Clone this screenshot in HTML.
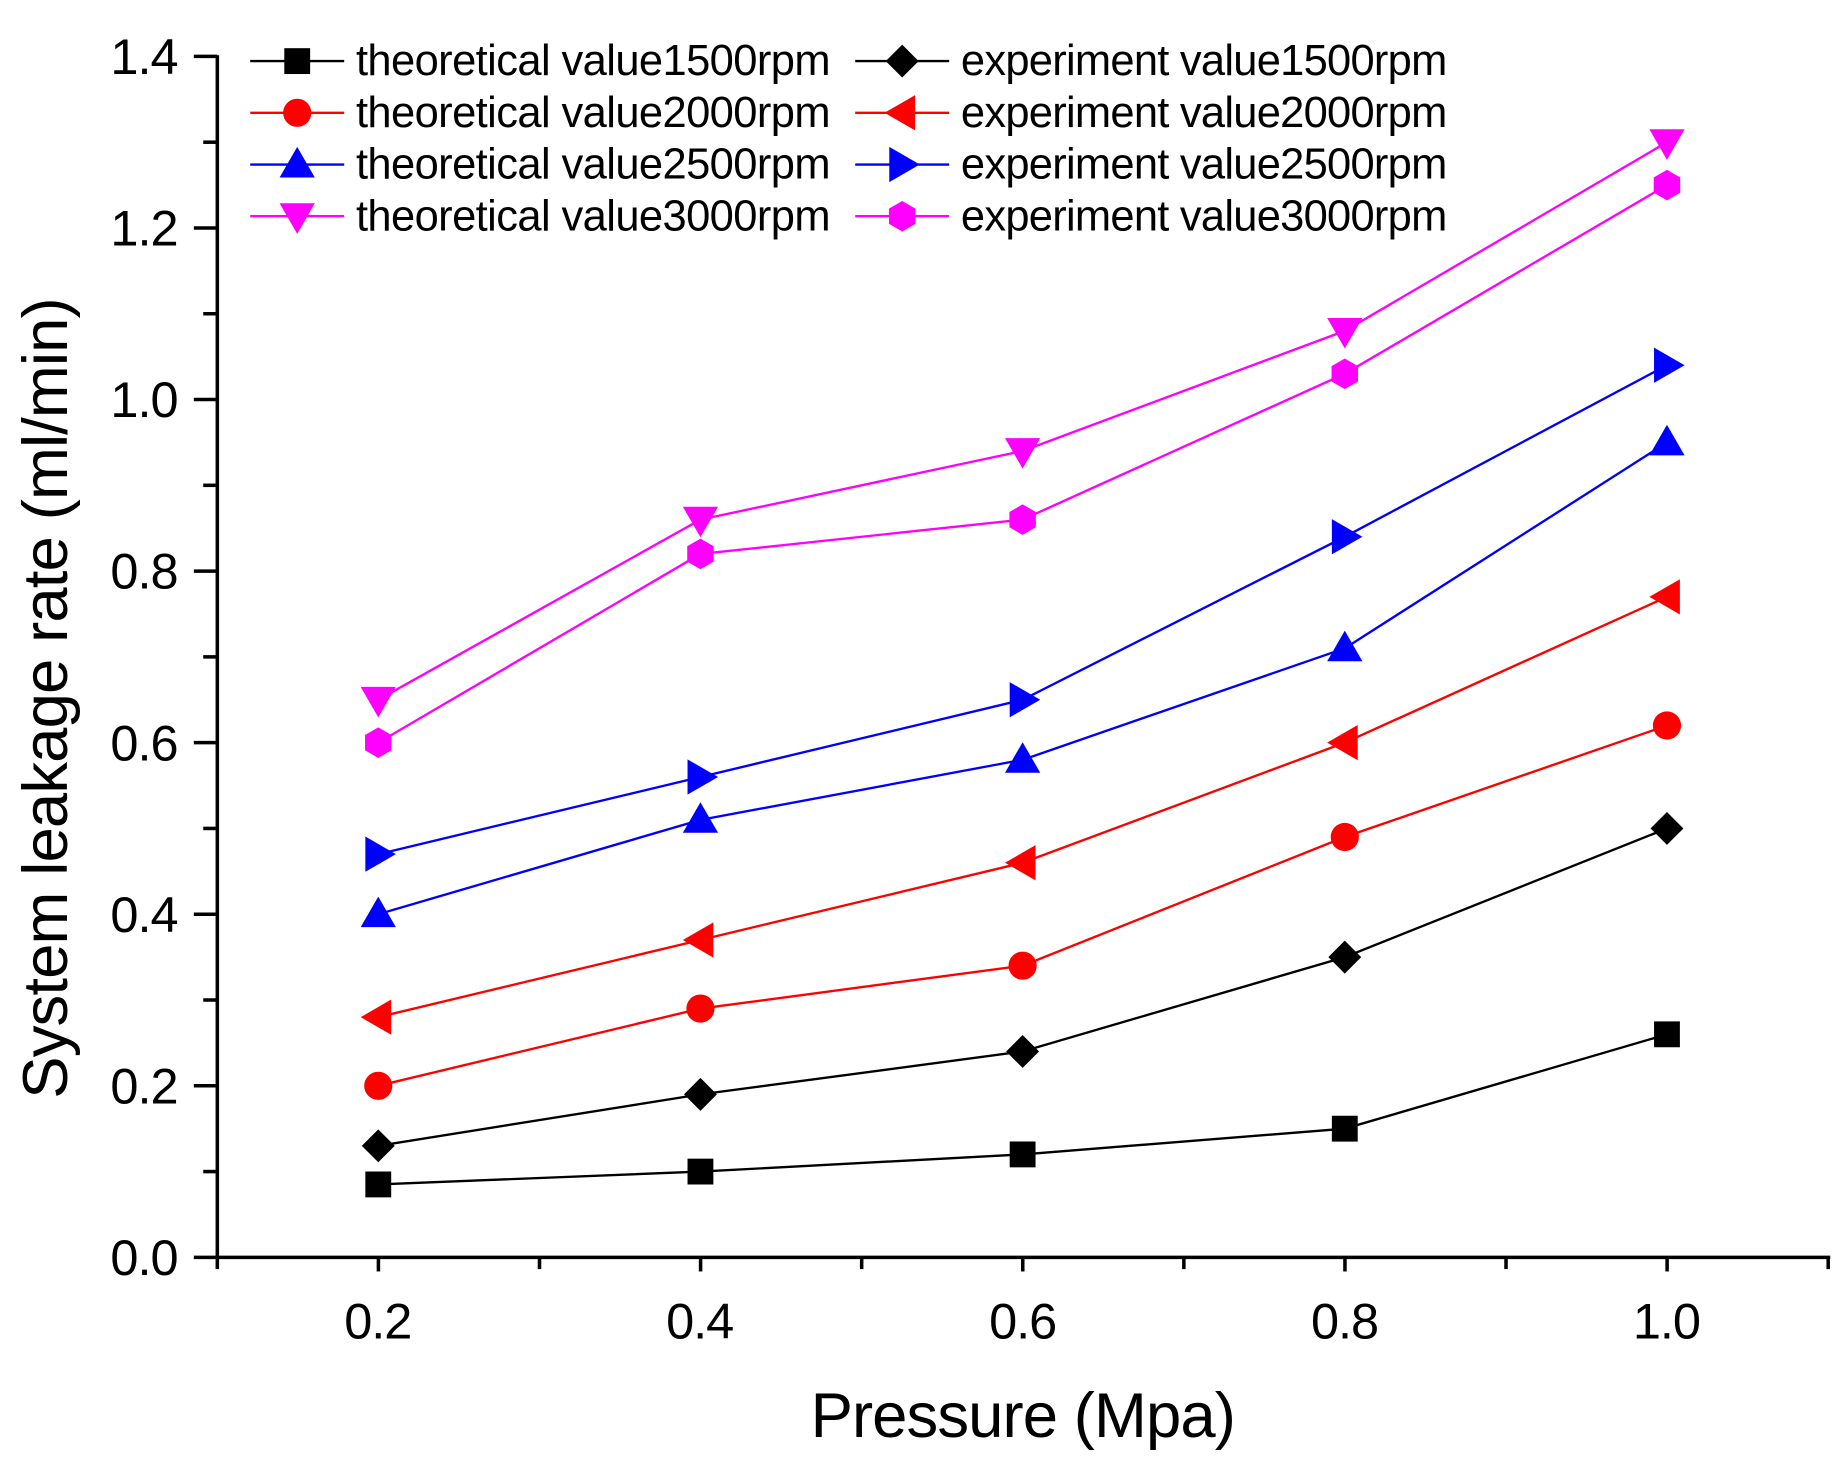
<!DOCTYPE html>
<html><head><meta charset="utf-8"><style>html,body{margin:0;padding:0;background:#fff}svg{display:block}</style></head>
<body>
<svg id="s" width="1842" height="1463" viewBox="0 0 1568 1245" preserveAspectRatio="none" xmlns="http://www.w3.org/2000/svg" font-family="Liberation Sans, Arial, sans-serif">
<rect width="1568" height="1245" fill="#fff"/>
<g stroke="#000" stroke-width="3" fill="none">
<line x1="185" y1="47" x2="185" y2="1071"/>
<line x1="184" y1="1070" x2="1558" y2="1070"/>
</g>
<g id="ticks" stroke="#000" stroke-width="3"></g>
<g font-size="43" text-anchor="end" fill="#000">
<text x="152" y="1085" textLength="58">0.0</text><text x="152" y="939" textLength="58">0.2</text><text x="152" y="793" textLength="58">0.4</text><text x="152" y="647" textLength="58">0.6</text><text x="152" y="501" textLength="58">0.8</text><text x="152" y="355" textLength="58">1.0</text><text x="152" y="209" textLength="58">1.2</text><text x="152" y="63" textLength="58">1.4</text>
</g>
<g font-size="43" text-anchor="middle" fill="#000">
<text x="322" y="1139" textLength="58">0.2</text><text x="596" y="1139" textLength="58">0.4</text><text x="871" y="1139" textLength="58">0.6</text><text x="1145" y="1139" textLength="58">0.8</text><text x="1419" y="1139" textLength="58">1.0</text>
</g>
<text x="690" y="1223" font-size="54" textLength="362">Pressure (Mpa)</text>
<text transform="translate(57,935) rotate(-90)" font-size="54" textLength="682">System leakage rate (ml/min)</text>
<g id="series"></g>
<g font-size="37" fill="#000">
<text x="303" y="64" textLength="404">theoretical value1500rpm</text>
<text x="303" y="108" textLength="404">theoretical value2000rpm</text>
<text x="303" y="152" textLength="404">theoretical value2500rpm</text>
<text x="303" y="196" textLength="404">theoretical value3000rpm</text>
<text x="818" y="64" textLength="414">experiment value1500rpm</text>
<text x="818" y="108" textLength="414">experiment value2000rpm</text>
<text x="818" y="152" textLength="414">experiment value2500rpm</text>
<text x="818" y="196" textLength="414">experiment value3000rpm</text>
</g>
<g id="legend"></g>
</svg>
<script>
var NS="http://www.w3.org/2000/svg";
function el(p,t,a){var e=document.createElementNS(NS,t);for(var k in a)e.setAttribute(k,a[k]);p.appendChild(e);return e;}
var tk=document.getElementById("ticks");
for(var i=0;i<=14;i++){var y=1070-73*i;el(tk,"line",{x1:i%2?173:165,y1:y,x2:185,y2:y});}
for(var i=0;i<=10;i++){var x=185+137.125*i;if(x>1559)break;el(tk,"line",{x1:x,y1:1070,x2:x,y2:i%2?1082:1080});}
var X=[322,596.25,870.5,1144.75,1419];
function Y(v){return 1070-730*v;}
function marker(g,type,x,y,c){
 if(type=="sq")el(g,"rect",{x:x-11,y:y-11,width:22,height:22,fill:c});
 else if(type=="ci")el(g,"circle",{cx:x,cy:y,r:12,fill:c});
 else if(type=="di")el(g,"polygon",{points:[x,y-14,x+14,y,x,y+14,x-14,y].join(" "),fill:c});
 else if(type=="up")el(g,"polygon",{points:[x,y-15,x+15,y+11,x-15,y+11].join(" "),fill:c});
 else if(type=="dn")el(g,"polygon",{points:[x,y+15,x+15,y-11,x-15,y-11].join(" "),fill:c});
 else if(type=="lt")el(g,"polygon",{points:[x-15,y,x+11,y-15,x+11,y+15].join(" "),fill:c});
 else if(type=="rt")el(g,"polygon",{points:[x+15,y,x-11,y-15,x-11,y+15].join(" "),fill:c});
 else if(type=="hx"){var p=[];for(var k=0;k<6;k++){var a=Math.PI/3*k+Math.PI/6;p.push(x+13*Math.cos(a),y+13*Math.sin(a));}el(g,"polygon",{points:p.join(" "),fill:c});}
}
var S=[
["sq","#000",[0.085,0.10,0.12,0.15,0.26],0,52],
["di","#000",[0.13,0.19,0.24,0.35,0.50],1,52],
["ci","#f00",[0.20,0.29,0.34,0.49,0.62],0,96],
["lt","#f00",[0.28,0.37,0.46,0.60,0.77],1,96],
["up","#00f",[0.40,0.51,0.58,0.71,0.95],0,140],
["rt","#00f",[0.47,0.56,0.65,0.84,1.04],1,140],
["dn","#f0f",[0.65,0.86,0.94,1.08,1.30],0,184],
["hx","#f0f",[0.60,0.82,0.86,1.03,1.25],1,184]
];
var sg=document.getElementById("series"),lg=document.getElementById("legend");
S.forEach(function(s){
 var pts=s[2].map(function(v,i){return X[i]+","+Y(v);}).join(" ");
 el(sg,"polyline",{points:pts,fill:"none",stroke:s[1],"stroke-width":2});
 s[2].forEach(function(v,i){marker(sg,s[0],X[i],Y(v),s[1]);});
 var lx=s[3]?728:213;
 el(lg,"line",{x1:lx,y1:s[4],x2:lx+80,y2:s[4],stroke:s[1],"stroke-width":2});
 marker(lg,s[0],lx+40,s[4],s[1]);
});
</script>
</body></html>
